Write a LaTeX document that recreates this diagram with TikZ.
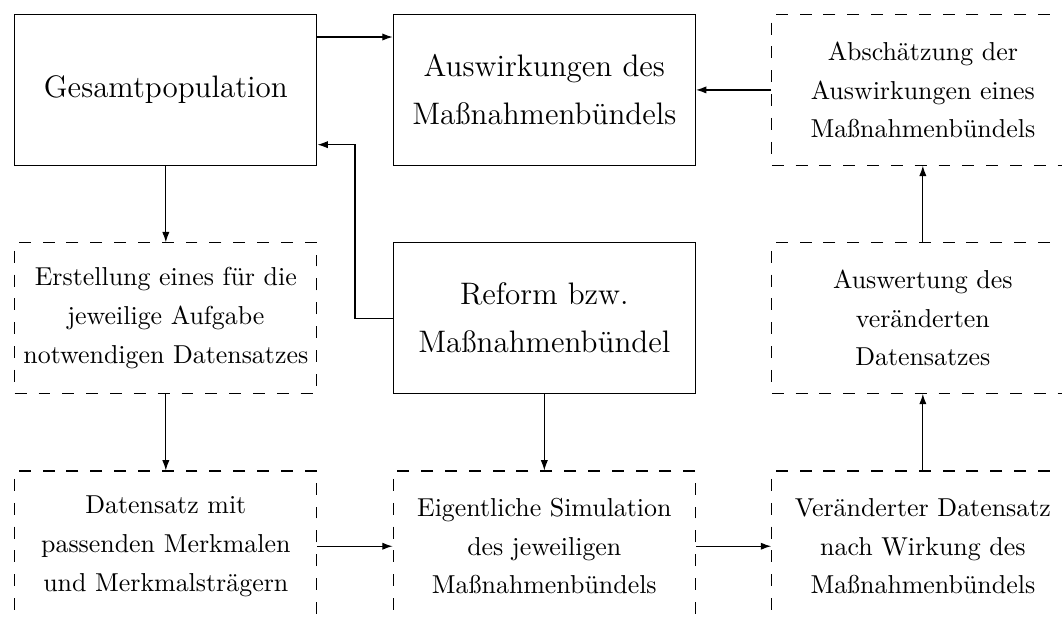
\documentclass[tikz,border=0pt]{standalone}
\usepackage{tikz}
\usetikzlibrary{arrows.meta, positioning, calc}

\begin{document}
\begin{tikzpicture}[
    >={Latex[length=4pt, width=2.8pt]},
    node distance=1.03cm,
    haupt/.style={draw, line width=0.45pt, minimum width=4.1cm, minimum height=2.04cm, align=center, font=\fontsize{12}{18.5}\selectfont},
    schritt/.style={draw, line width=0.45pt, dash pattern=on 4.6pt off 4.6pt, minimum width=4.1cm, minimum height=2.04cm, align=center, font=\fontsize{10}{14.9}\selectfont},
    pfeil/.style={->, line width=0.45pt},
]
\useasboundingbox (0,0) rectangle (14.41,-8.36);

% === OBERE REIHE ===
\node[haupt] (gesamt) at (2.25,-1.22) {Gesamtpopulation};
\node[haupt, right=1.02cm of gesamt] (auswirk) {Auswirkungen des\\Maßnahmenbündels};
\node[schritt, right=1.02cm of auswirk] (abschaetz) {Abschätzung der\\Auswirkungen eines\\Maßnahmenbündels};

% === MITTLERE REIHE ===
\node[schritt, below=1.04cm of gesamt] (erstellung) {Erstellung eines für die\\jeweilige Aufgabe\\notwendigen Datensatzes};
\node[haupt, below=1.04cm of auswirk] (reform) {Reform bzw.\\Maßnahmenbündel};
\node[schritt, below=1.04cm of abschaetz] (auswert) {Auswertung des\\veränderten\\Datensatzes};

% === UNTERE REIHE ===
\node[schritt, below=1.04cm of erstellung] (datensatz) {Datensatz mit\\passenden Merkmalen\\und Merkmalsträgern};
\node[schritt, below=1.04cm of reform] (simul) {Eigentliche Simulation\\des jeweiligen\\Maßnahmenbündels};
\node[schritt, below=1.04cm of auswert] (veraendert) {Veränderter Datensatz\\nach Wirkung des\\Maßnahmenbündels};

% Pfeile oben
\draw[pfeil] ([yshift=-0.31cm]gesamt.north east) -- ([yshift=-0.31cm]auswirk.north west);
\draw[pfeil] (abschaetz.west) -- (auswirk.east);
\draw[pfeil] (reform.west) -- ++(-0.51,0) |- ([yshift=0.285cm]gesamt.south east);

% Pfeile links
\draw[pfeil] (gesamt.south) -- (erstellung.north);
\draw[pfeil] (erstellung.south) -- (datensatz.north);

% Pfeile Mitte und unten
\draw[pfeil] (reform.south) -- (simul.north);
\draw[pfeil] (datensatz.east) -- (simul.west);
\draw[pfeil] (simul.east) -- (veraendert.west);

% Pfeile rechts
\draw[pfeil] (veraendert.north) -- (auswert.south);
\draw[pfeil] (auswert.north) -- (abschaetz.south);

\end{tikzpicture}
\end{document}
